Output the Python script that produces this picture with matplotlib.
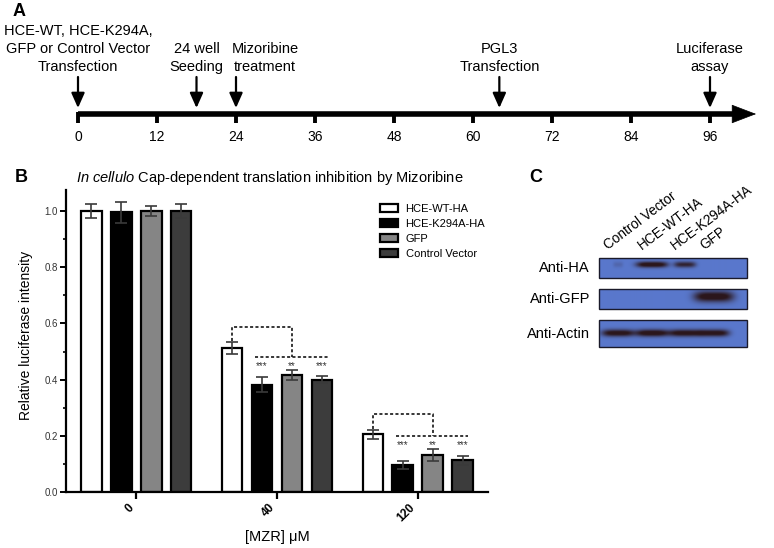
import numpy as np
import matplotlib
matplotlib.use("Agg")
import matplotlib.pyplot as plt

plt.rcParams['font.family'] = ['Liberation Sans', 'DejaVu Sans']
plt.rcParams['mathtext.fontset'] = 'custom'
plt.rcParams['mathtext.rm'] = 'Liberation Sans'
plt.rcParams['mathtext.it'] = 'Liberation Sans:italic'

# ---- panel A: timeline (hours)
hour_ticks = [0, 12, 24, 36, 48, 60, 72, 84, 96]
event_hours = [0, 18, 24, 64, 96]
event_labels = ["HCE-WT, HCE-K294A,\nGFP or Control Vector\nTransfection",
                "24 well\nSeeding", "Mizoribine\ntreatment",
                "PGL3\nTransfection", "Luciferase\nassay"]

# ---- panel B: relative luciferase intensity
doses = ["0", "40", "120"]
series = ["HCE-WT-HA", "HCE-K294A-HA", "GFP", "Control Vector"]
wt = [1.000, 0.513, 0.206]
wt_err = [0.025, 0.020, 0.016]
k294a = [0.995, 0.382, 0.097]
k294a_err = [0.038, 0.026, 0.014]
gfp = [1.000, 0.417, 0.133]
gfp_err = [0.018, 0.017, 0.021]
ctrl = [1.000, 0.400, 0.113]
ctrl_err = [0.025, 0.012, 0.016]
stars = {1: ["***", "**", "***"], 2: ["***", "**", "***"]}

# ---- panel C: western blot band intensities per lane
lanes = ["Control Vector", "HCE-WT-HA", "HCE-K294A-HA", "GFP"]
blot_rows = ["Anti-HA", "Anti-GFP", "Anti-Actin"]
anti_ha = [0.15, 1.0, 0.75, 0.0]
anti_gfp = [0.0, 0.0, 0.0, 1.0]
anti_actin = [0.95, 1.0, 0.95, 0.95]

fig = plt.figure(figsize=(7.74, 5.48), dpi=100)

# panel A in hours / pixel rows
px_per_h = (710 - 78) / 96.0
axA = fig.add_axes([0, 0, 1, 1])
axA.set_xlim(-78 / px_per_h, (774 - 78) / px_per_h)
axA.set_ylim(548, 0)
axA.axis('off')
axA.plot([0, 100], [114, 114], color='k', lw=4, solid_capstyle='butt')
axA.annotate('', xy=(103, 114), xytext=(98, 114),
             arrowprops=dict(arrowstyle='-|>,head_length=1.1,head_width=0.42',
                             color='k', lw=0.5, mutation_scale=15,
                             shrinkA=0, shrinkB=0))
for h in hour_ticks:
    axA.plot([h, h], [112, 123], color='k', lw=2.8, solid_capstyle='butt')
    axA.text(h, 137, str(h), ha='center', va='center', fontsize=10)
label_shift = [0, 0, 4.4, 0, 0]
for h, lab, s in zip(event_hours, event_labels, label_shift):
    axA.annotate('', xy=(h, 108), xytext=(h, 77),
                 arrowprops=dict(arrowstyle='-|>,head_length=0.9,head_width=0.4',
                                 color='k', lw=1.6, mutation_scale=10,
                                 shrinkA=0, shrinkB=0))
    axA.text(h + s, 74, lab, ha='center', va='bottom', fontsize=10.5,
             linespacing=1.38)

# panel B bar chart
ax = fig.add_axes([66 / 774, 56 / 548, 422 / 774, 302 / 548])
x = np.arange(len(doses))
offsets = (np.arange(4) - 1.5) * 0.213
width = 0.145
colors = ['white', 'black', '#858585', '#3c3c3c']
vals = [wt, k294a, gfp, ctrl]
errs = [wt_err, k294a_err, gfp_err, ctrl_err]
for i in range(4):
    ax.bar(x + offsets[i], vals[i], width, color=colors[i], edgecolor='black',
           linewidth=1.6, label=series[i], zorder=2)
    ax.errorbar(x + offsets[i], vals[i], yerr=errs[i], fmt='none',
                ecolor='#3a3a3a', elinewidth=1.2, capsize=4.5, capthick=1.2,
                zorder=3)

for g, st in stars.items():
    top_wt = wt[g] + wt_err[g]
    others_top = max(v[g] + e[g] for v, e in zip(vals[1:], errs[1:]))
    y_top = top_wt + 0.054
    y_low = others_top + 0.047
    dash = dict(color='black', lw=1.1, linestyle=(0, (2, 1.5)))
    xl = g + offsets[0]
    xr = g + 0.11
    ax.plot([xl, xl, xr, xr], [top_wt + 0.004, y_top, y_top, y_low], **dash)
    ax.plot([g - 0.156, g + 0.36], [y_low, y_low], **dash)
    for k, s in enumerate(st):
        ax.text(g + offsets[k + 1], y_low - 0.033, s, ha='center', va='center',
                fontsize=7, color='#333333')

ax.set_xlim(-0.5, 2.5)
ax.set_ylim(0, 1.075)
ax.set_xticks(x)
ax.set_xticklabels(doses, rotation=45, ha='right', fontsize=8.5,
                   fontweight='bold')
ax.set_yticks(np.arange(0, 1.01, 0.2))
ax.set_yticklabels(["%.1f" % v for v in np.arange(0, 1.01, 0.2)])
ax.set_yticks(np.arange(0.1, 1.0, 0.2), minor=True)
ax.tick_params(axis='y', which='major', length=4, width=1.4, labelsize=7,
               labelcolor='#333333', pad=2)
ax.tick_params(axis='y', which='minor', length=2.5, width=1.2)
ax.tick_params(axis='x', length=5, width=1.6, pad=2)
for sp in ['top', 'right']:
    ax.spines[sp].set_visible(False)
for sp in ['left', 'bottom']:
    ax.spines[sp].set_linewidth(1.6)
ax.set_ylabel("Relative luciferase intensity", fontsize=10)
ax.yaxis.set_label_coords(-0.078, 0.52)
ax.set_xlabel("[MZR] \u03bcM", fontsize=10.5)
ax.xaxis.set_label_coords(0.5, -0.125)
ax.set_title(r"$\it{In\ cellulo}$ Cap-dependent translation inhibition by Mizoribine",
             fontsize=10.5, loc='left', x=0.024, y=1.028, pad=0)
ax.legend(loc='upper left', bbox_to_anchor=(0.744, 0.955), frameon=False,
          fontsize=8, handlelength=1.6, handleheight=0.75, handletextpad=0.7,
          labelspacing=0.45, borderpad=0, borderaxespad=0)

# panel C western blot (pixel coordinates)
axC = fig.add_axes([0, 0, 1, 1])
axC.set_xlim(0, 774)
axC.set_ylim(548, 0)
axC.axis('off')
axC.text(19, 12, "A", ha='center', va='center', fontsize=13, fontweight='bold')
axC.text(21, 177, "B", ha='center', va='center', fontsize=13, fontweight='bold')
axC.text(536, 177, "C", ha='center', va='center', fontsize=13, fontweight='bold')

lane_x = [618, 652, 685, 714]
row_box = [(258, 278), (289, 309), (320, 347)]
row_cy = [264.5, 296.5, 333]
row_wy = [3.0, 5.5, 3.6]
band_wx = [[5, 16, 11, 15], [15, 15, 15, 20], [16.5, 16.5, 16.5, 15.5]]
bg = np.array([0.35, 0.47, 0.80])
band = np.array([0.17, 0.09, 0.11])
x0, x1 = 599, 747
for r, inten in enumerate([anti_ha, anti_gfp, anti_actin]):
    y0, y1 = row_box[r]
    xs = np.linspace(x0, x1, 300)
    ys = np.linspace(y0, y1, 60)
    X, Y = np.meshgrid(xs, ys)
    d = np.zeros_like(X)
    for c, a, w in zip(lane_x, inten, band_wx[r]):
        d += a * np.exp(-(np.abs(X - c) / w) ** 4) * np.exp(-((Y - row_cy[r]) / row_wy[r]) ** 2)
    d = np.clip(d * 1.2, 0, 1)
    img = bg[None, None, :] * (1 - d[..., None]) + band[None, None, :] * d[..., None]
    axC.imshow(img, extent=(x0, x1, y1, y0), aspect='auto', interpolation='bilinear')
    axC.add_patch(plt.Rectangle((x0, y0), x1 - x0, y1 - y0, fill=False,
                                edgecolor='#1a1a2a', lw=1.0))
    axC.text(590, (y0 + y1) / 2, blot_rows[r], ha='right', va='center',
             fontsize=10.5)
for c, lab in zip(lane_x, lanes):
    axC.text(c - 8, 252, lab, rotation=37, rotation_mode='anchor', ha='left',
             va='bottom', fontsize=9.8)
axC.set_xlim(0, 774)
axC.set_ylim(548, 0)

fig.savefig("out.png", dpi=100)
